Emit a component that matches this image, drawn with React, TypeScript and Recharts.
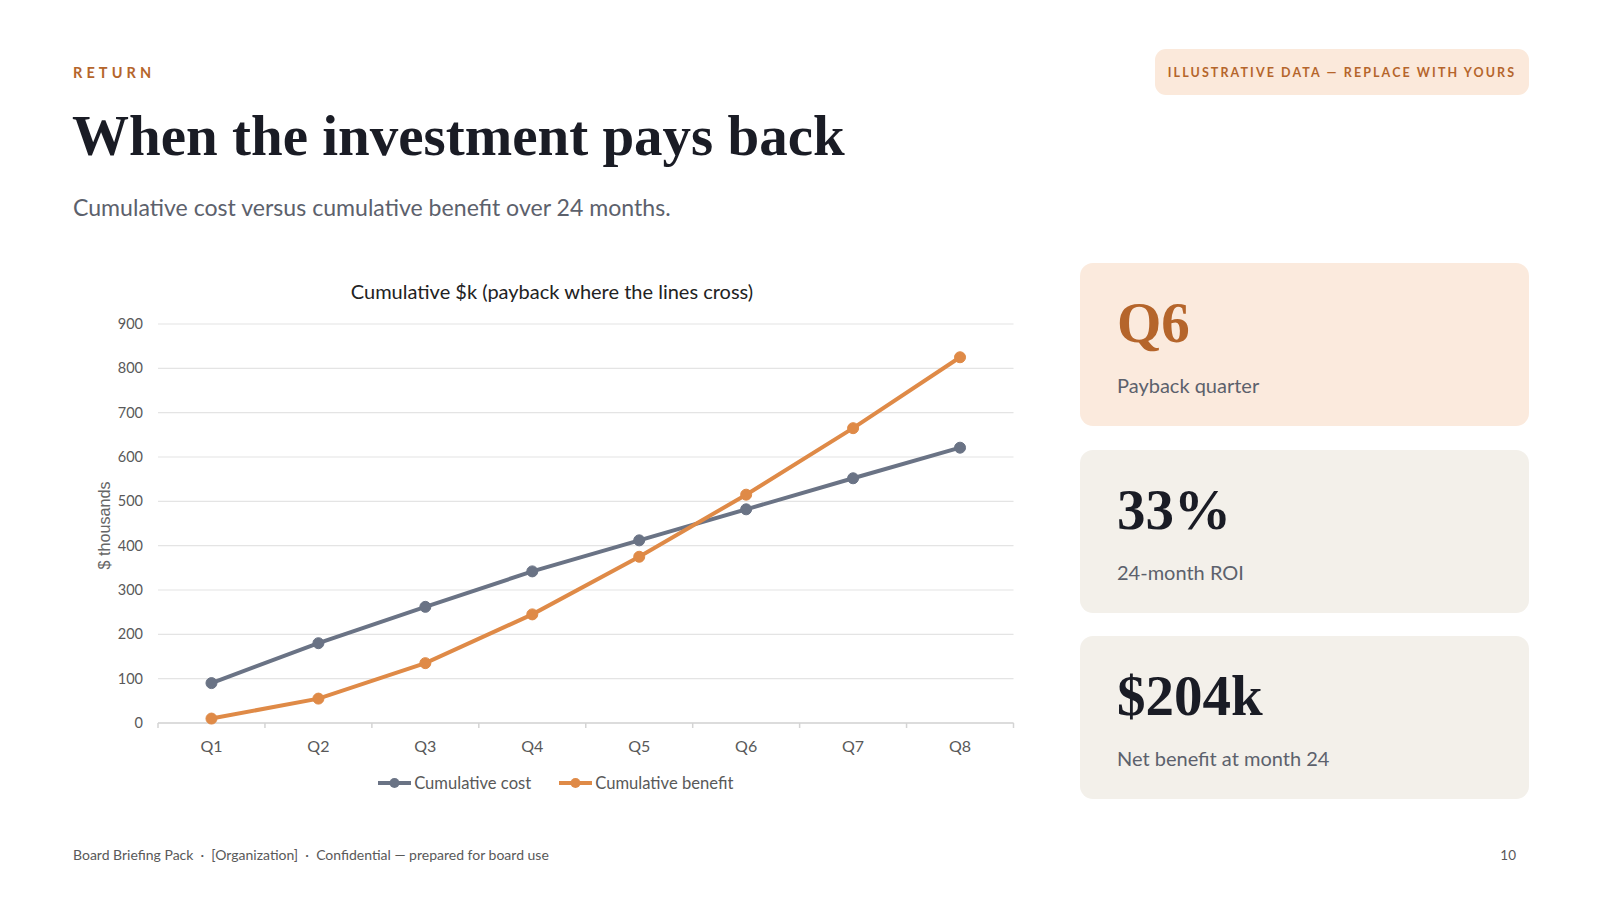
import React from 'react';
import { LineChart, Line, XAxis, YAxis, CartesianGrid, Legend } from 'recharts';

// quarters over the 24-month horizon
const quarters = ['Q1', 'Q2', 'Q3', 'Q4', 'Q5', 'Q6', 'Q7', 'Q8'];
// cumulative values, $k
const cumulativeCost = [90, 180, 262, 342, 412, 482, 552, 621];
const cumulativeBenefit = [10, 55, 135, 245, 375, 515, 665, 825];
const yTicks = [0, 100, 200, 300, 400, 500, 600, 700, 800, 900];

const kpis = [
  { value: 'Q6', label: 'Payback quarter', accent: true },
  { value: '33%', label: '24-month ROI', accent: false },
  { value: '$204k', label: 'Net benefit at month 24', accent: false },
];

const chartData = quarters.map((q, i) => ({
  quarter: q,
  cost: cumulativeCost[i],
  benefit: cumulativeBenefit[i],
}));

const SANS = 'Lato, "Open Sans", sans-serif';
const SERIF = '"Liberation Serif", "DejaVu Serif", serif';
const COST = '#6a7385';
const BENEFIT = '#df8a47';
const TICK_GAP = 17;
const seriesOrder = ['cost', 'benefit'];

const QuarterTick = (props: any) => {
  const { x, y, payload, index, visibleTicksCount } = props;
  const half = payload && payload.offset ? payload.offset : 106.9 / 2;
  const axisY = y - TICK_GAP;
  const last = index === (visibleTicksCount ?? quarters.length) - 1;
  return (
    <g>
      <line x1={x - half} x2={x - half} y1={axisY} y2={axisY + 5} stroke="#d4d4d4" strokeWidth={1.5} />
      {last && <line x1={x + half} x2={x + half} y1={axisY} y2={axisY + 5} stroke="#d4d4d4" strokeWidth={1.5} />}
      <text x={x} y={y} dy="0.72em" textAnchor="middle" fill="#595959" fontSize={16} fontFamily={SANS}>
        {payload.value}
      </text>
    </g>
  );
};

const renderLegend = (props: any) => {
  const items = [...(props.payload || [])].sort(
    (a: any, b: any) => seriesOrder.indexOf(a.dataKey) - seriesOrder.indexOf(b.dataKey)
  );
  return (
    <div style={{ display: 'flex', justifyContent: 'center', gap: 28, fontFamily: SANS, fontSize: 16.6, color: '#595959', lineHeight: '20px' }}>
      {items.map((p: any) => (
        <span key={p.value} style={{ display: 'flex', alignItems: 'center' }}>
          <svg width={33} height={12} style={{ marginRight: 3 }}>
            <line x1={0} x2={33} y1={6} y2={6} stroke={p.color} strokeWidth={4} />
            <circle cx={16.5} cy={6} r={5} fill={p.color} />
          </svg>
          {p.value}
        </span>
      ))}
    </div>
  );
};

const YTitle = (props: any) => {
  const vb = props.viewBox || { x: 0, y: 0, width: 0, height: 0 };
  const cx = vb.x + 6;
  const cy = vb.y + vb.height / 2 + 2;
  return (
    <text
      x={cx}
      y={cy}
      transform={`rotate(-90, ${cx}, ${cy})`}
      textAnchor="middle"
      dominantBaseline="central"
      fill="#666"
      fontSize={16.2}
      fontFamily='"Liberation Sans", Arial, sans-serif'
    >
      $ thousands
    </text>
  );
};

export default function App() {
  return (
    <div style={{ position: 'absolute', left: 0, top: 0, width: 1600, height: 900, background: '#fff', overflow: 'hidden' }}>
      <div style={{ position: 'absolute', left: 73, top: 64, fontFamily: SANS, fontWeight: 700, fontSize: 14.5, letterSpacing: 4.1, color: '#b5652b', lineHeight: '18px' }}>
        RETURN
      </div>
      <div style={{ position: 'absolute', left: 72, top: 104, fontFamily: SERIF, fontWeight: 700, fontSize: 57, color: '#1a1c25', lineHeight: '64px', whiteSpace: 'nowrap' }}>
        When the investment pays back
      </div>
      <div style={{ position: 'absolute', left: 73, top: 193, fontFamily: SANS, fontSize: 23.1, color: '#5c616c', lineHeight: '28px' }}>
        Cumulative cost versus cumulative benefit over 24 months.
      </div>

      <div style={{ position: 'absolute', left: 1155, top: 49, width: 374, height: 46, borderRadius: 11, background: '#fbe9db', display: 'flex', alignItems: 'center', justifyContent: 'center', fontFamily: SANS, fontWeight: 700, fontSize: 12.5, letterSpacing: 2.1, color: '#b5652b' }}>
        ILLUSTRATIVE DATA — REPLACE WITH YOURS
      </div>

      <div style={{ position: 'absolute', left: 297, width: 510, top: 278, textAlign: 'center', fontFamily: SANS, fontSize: 20, color: '#222', lineHeight: '26px' }}>
        Cumulative $k (payback where the lines cross)
      </div>

      <div style={{ position: 'absolute', left: 72, top: 300 }}>
        <LineChart width={968} height={510} data={chartData} margin={{ top: 24, right: 26.5, left: 26, bottom: 17 }}>
          <CartesianGrid horizontal vertical={false} stroke="#e4e4e4" strokeWidth={1.2} />
          <XAxis
            dataKey="quarter"
            scale="band"
            height={50}
            axisLine={{ stroke: '#d4d4d4', strokeWidth: 1.5 }}
            tickLine={false}
            tickSize={0}
            tickMargin={TICK_GAP}
            tick={<QuarterTick />}
            interval={0}
          />
          <YAxis
            width={60}
            domain={[0, 900]}
            ticks={yTicks}
            axisLine={false}
            tickLine={false}
            tickSize={0}
            tickMargin={15}
            tick={{ fill: '#595959', fontSize: 14.5, fontFamily: SANS }}
            label={<YTitle />}
          />
          <Legend verticalAlign="bottom" content={renderLegend} />
          <Line
            name="Cumulative cost"
            dataKey="cost"
            stroke={COST}
            strokeWidth={4}
            dot={{ r: 5.5, fill: COST, stroke: COST, strokeWidth: 1 }}
            activeDot={false}
            isAnimationActive={false}
          />
          <Line
            name="Cumulative benefit"
            dataKey="benefit"
            stroke={BENEFIT}
            strokeWidth={4}
            dot={{ r: 5.5, fill: BENEFIT, stroke: BENEFIT, strokeWidth: 1 }}
            activeDot={false}
            isAnimationActive={false}
          />
        </LineChart>
      </div>

      {kpis.map((k, i) => (
        <div
          key={k.label}
          style={{
            position: 'absolute',
            left: 1080,
            top: 263 + i * 186.5,
            width: 449,
            height: 163,
            borderRadius: 13,
            background: k.accent ? '#fbeadd' : '#f3f0ea',
          }}
        >
          <div style={{ position: 'absolute', left: 37, top: 28, fontFamily: SERIF, fontWeight: 700, fontSize: 57, lineHeight: '64px', color: k.accent ? '#b5652b' : '#1a1c25' }}>
            {k.value}
          </div>
          <div style={{ position: 'absolute', left: 37, top: 110, fontFamily: SANS, fontSize: 20, lineHeight: '24px', color: '#5c616c' }}>
            {k.label}
          </div>
        </div>
      ))}

      <div style={{ position: 'absolute', left: 73, top: 847, fontFamily: SANS, fontSize: 14, color: '#595959', lineHeight: '16px', whiteSpace: 'pre' }}>
        {'Board Briefing Pack \u00a0·\u00a0 [Organization] \u00a0·\u00a0 Confidential — prepared for board use'}
      </div>
      <div style={{ position: 'absolute', right: 84, top: 847, fontFamily: SANS, fontSize: 13.5, color: '#595959', lineHeight: '16px' }}>
        10
      </div>
    </div>
  );
}
